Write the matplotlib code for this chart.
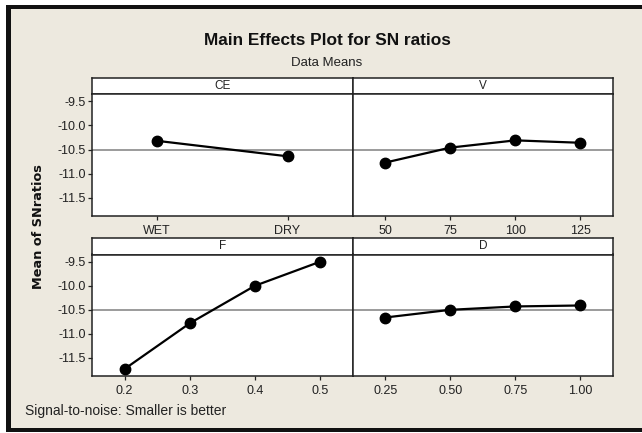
import matplotlib
matplotlib.use('Agg')
import matplotlib.pyplot as plt
from matplotlib.patches import Rectangle
import numpy as np

plt.rcParams['font.family'] = ['Liberation Sans', 'DejaVu Sans']

# main effects - mean of SN ratios per factor level
ce_levels = ['WET', 'DRY']
ce_sn = [-10.32, -10.64]
v_levels = ['50', '75', '100', '125']
v_sn = [-10.77, -10.46, -10.31, -10.36]
f_levels = ['0.2', '0.3', '0.4', '0.5']
f_sn = [-11.73, -10.78, -10.00, -9.50]
d_levels = ['0.25', '0.50', '0.75', '1.00']
d_sn = [-10.66, -10.50, -10.43, -10.41]
grand_mean = -10.5
y_ticks = [-9.5, -10.0, -10.5, -11.0, -11.5]

W, H = 642, 433
fig = plt.figure(figsize=(W / 100, H / 100), dpi=100)
fig.patch.set_facecolor('white')

def px(x0, y0, x1, y1):
    # pixel box (top-left origin) -> figure fraction rect
    return [x0 / W, 1 - y1 / H, (x1 - x0) / W, (y1 - y0) / H]

# beige background and dark frame
bg = '#EDE9DF'
fig.patches.append(Rectangle((6 / W, 1 - 432 / H), (W - 6) / W, 427 / H,
                             transform=fig.transFigure, facecolor=bg, edgecolor='none', zorder=-5))
for (x0, y0, x1, y1) in [(6, 5, 11, 432), (6, 5, W, 9), (6, 428, W, 432)]:
    fig.patches.append(Rectangle((x0 / W, 1 - y1 / H), (x1 - x0) / W, (y1 - y0) / H,
                                 transform=fig.transFigure, facecolor='#111111',
                                 edgecolor='none', zorder=-4))

fig.text(327 / W, 1 - 40.5 / H, 'Main Effects Plot for SN ratios', ha='center', va='center',
         fontsize=12.4, fontweight='bold', color='#111111')
fig.text(327 / W, 1 - 62.5 / H, 'Data Means', ha='center', va='center', fontsize=9.5,
         color='#222222')
fig.text(38 / W, 1 - 227 / H, 'Mean of SNratios', ha='center', va='center', rotation=90,
         fontsize=9.3, fontweight='bold', family=['DejaVu Sans'], color='#111111')
fig.text(25 / W, 1 - 411.5 / H, 'Signal-to-noise: Smaller is better', ha='left', va='center',
         fontsize=10, color='#222222')

panels = [('CE', ce_levels, ce_sn, 92, 352.7, 77.5, 94, 215.7, True),
          ('V', v_levels, v_sn, 352.7, 613, 77.5, 94, 215.7, False),
          ('F', f_levels, f_sn, 92, 352.7, 237.5, 254.5, 375.7, True),
          ('D', d_levels, d_sn, 352.7, 613, 237.5, 254.5, 375.7, False)]

for name, levels, vals, x0, x1, ys, ya, yb, left in panels:
    strip = fig.add_axes(px(x0, ys, x1, ya))
    strip.set_facecolor('white')
    strip.set_xticks([])
    strip.set_yticks([])
    for s in strip.spines.values():
        s.set_linewidth(1.1)
        s.set_color('#222222')
    strip.text(0.5, 0.5, name, ha='center', va='center', fontsize=8.5, color='#222222',
               transform=strip.transAxes)

    ax = fig.add_axes(px(x0, ya, x1, yb))
    ax.set_facecolor('white')
    x = np.arange(1, len(levels) + 1)
    ax.axhline(grand_mean, color='#808080', lw=1.1, zorder=1)
    ax.plot(x, vals, color='black', lw=1.6, marker='o', markersize=7.5, zorder=3)
    ax.set_xlim(0.5, len(levels) + 0.5)
    ax.set_ylim(-11.87, -9.35)
    ax.set_xticks(x)
    ax.set_xticklabels(levels)
    ax.set_yticks(y_ticks)
    ax.set_yticklabels(['%.1f' % t for t in y_ticks])
    ax.tick_params(axis='both', direction='out', length=3, width=0.9, color='#222222',
                   labelsize=9, labelcolor='#222222')
    ax.tick_params(axis='x', pad=3.5)
    ax.tick_params(axis='y', pad=1.5)
    if not left:
        ax.tick_params(axis='y', left=False, labelleft=False)
    for s in ax.spines.values():
        s.set_linewidth(1.1)
        s.set_color('#222222')

fig.savefig('out.png', dpi=100, facecolor=fig.get_facecolor())
